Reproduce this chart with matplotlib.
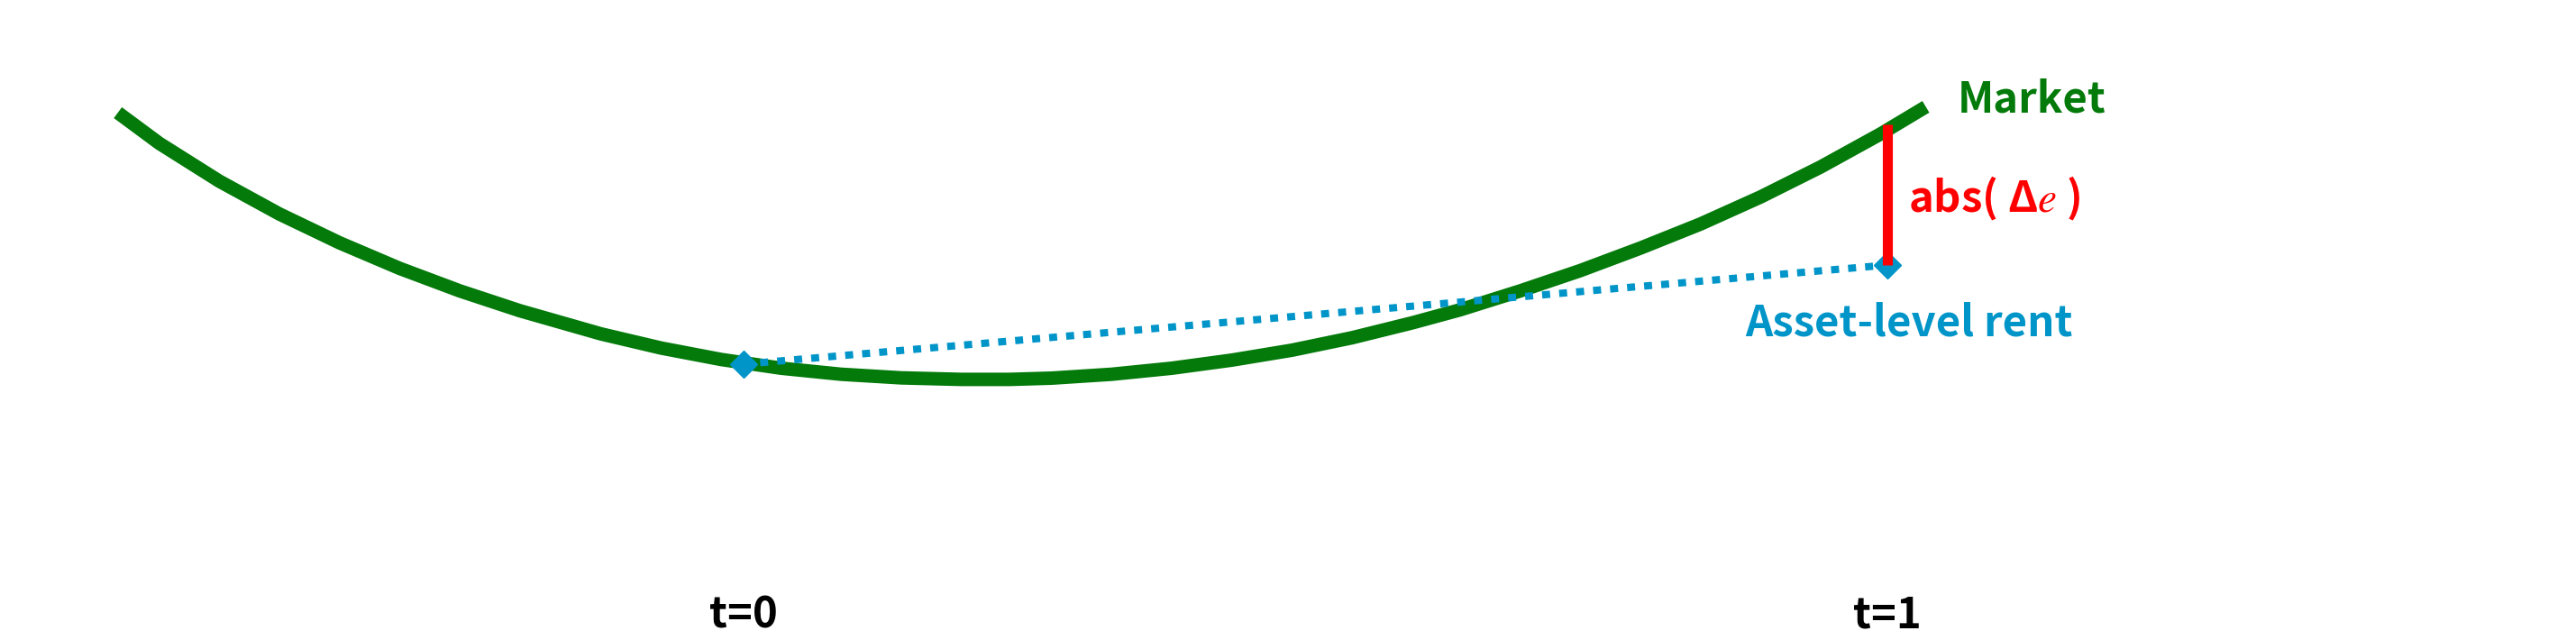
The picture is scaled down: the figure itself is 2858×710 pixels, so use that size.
import numpy as np
import matplotlib
matplotlib.use('Agg')
import matplotlib.pyplot as plt

plt.rcParams['font.family'] = ['Noto Sans CJK SC', 'DejaVu Sans']
plt.rcParams['mathtext.fontset'] = 'stix'

# market curve (t=0 -> 0, t=1 -> 1)
market_t = [-0.5465, -0.5103, -0.4578, -0.4053, -0.3527, -0.3003, -0.2477, -0.1952,
            -0.1243, -0.0718, -0.0193, 0.0332, 0.0857, 0.1382, 0.1908, 0.2328,
            0.2696, 0.3220, 0.3746, 0.4271, 0.4796, 0.5321, 0.5846, 0.6266,
            0.6792, 0.7316, 0.7842, 0.8367, 0.8892, 0.9417, 0.9942, 1.0336]
market_y = [5.850, 5.510, 5.090, 4.726, 4.406, 4.123, 3.873, 3.653,
            3.396, 3.239, 3.112, 3.015, 2.948, 2.908, 2.891, 2.891,
            2.905, 2.948, 3.015, 3.105, 3.215, 3.353, 3.518, 3.663,
            3.873, 4.098, 4.348, 4.615, 4.915, 5.248, 5.615, 5.915]

# asset-level rent at t=0 and t=1
asset_t = [0, 1]
asset_y = [3.06, 4.16]
market_at_t1 = 5.72

tick_pos = [0, 1]
tick_lab = ['t=0', 't=1']

green = '#037a0a'
blue = '#0095c8'
red = '#ff0000'
fs = 17

fig = plt.figure(figsize=(14.29, 3.55), dpi=200)
ax = fig.add_axes([0, 0.0986, 1, 0.9014])

ax.plot(market_t, market_y, color=green, lw=5.4, solid_capstyle='butt',
        solid_joinstyle='round', zorder=2)
ax.plot(asset_t, asset_y, color=blue, lw=2.9, ls=(0, (1.1, 1.25)), marker='D', ms=7.8,
        mew=0.5, zorder=3)
ax.plot([asset_t[1], asset_t[1]], [asset_y[1], market_at_t1], color=red, lw=4,
        solid_capstyle='butt', zorder=4)

ax.text(1.0612, 5.85, 'Market', color=green, fontsize=fs, fontweight='bold', va='baseline')
ax.text(1.0180, 4.75, r'abs( Δ$e$ )', color=red, fontsize=fs, fontweight='bold', va='baseline')
ax.text(0.8755, 3.37, 'Asset-level rent', color=blue, fontsize=fs, fontweight='bold', va='baseline')

ax.set_xlim(-0.6495, 1.6018)
ax.set_ylim(0.7, 7.1)
ax.set_xticks(tick_pos)
ax.set_xticklabels(tick_lab, fontsize=fs, fontweight='bold')
ax.tick_params(axis='x', length=0, pad=6.5)
ax.set_yticks([])
for s in ax.spines.values():
    s.set_visible(False)

fig.savefig('out.png', dpi=200)
